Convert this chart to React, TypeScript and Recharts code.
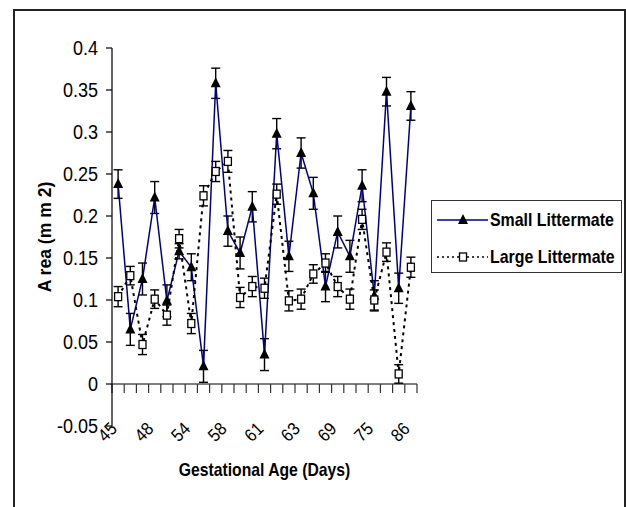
import React from "react";
import { LineChart, Line, XAxis, YAxis, ErrorBar, ReferenceLine, Legend, Label } from "recharts";

// ── data ──────────────────────────────────────────────────────────────────────

const ages = [
  "45", "46", "47", "48", "50", "52", "54", "55", "57", "58", "59", "60", "61",
  "62", "62", "63", "65", "67", "69", "71", "73", "75", "79", "83", "86",
];

const smallArea = [
  0.238, 0.065, 0.125, 0.222, 0.099, 0.158, 0.139, 0.021, 0.358, 0.182, 0.156, 0.211, 0.035,
  0.298, 0.152, 0.275, 0.227, 0.116, 0.181, 0.152, 0.236, 0.105, 0.348, 0.114, 0.331,
];
const smallErr = [
  0.017, 0.019, 0.019, 0.019, 0.019, 0.009, 0.016, 0.019, 0.018, 0.018, 0.019, 0.018, 0.019,
  0.018, 0.018, 0.018, 0.019, 0.018, 0.019, 0.019, 0.019, 0.018, 0.017, 0.018, 0.017,
];

const largeArea = [
  0.104, 0.129, 0.047, 0.101, 0.082, 0.173, 0.072, 0.224, 0.253, 0.265, 0.103, 0.116, 0.114,
  0.226, 0.099, 0.101, 0.131, 0.144, 0.116, 0.101, 0.196, 0.1, 0.157, 0.012, 0.139,
];
const largeErr = [
  0.012, 0.011, 0.012, 0.011, 0.012, 0.011, 0.012, 0.012, 0.012, 0.013, 0.012, 0.012, 0.012,
  0.012, 0.012, 0.012, 0.011, 0.011, 0.012, 0.012, 0.012, 0.012, 0.011, 0.011, 0.012,
];

const yTicks = [-0.05, 0, 0.05, 0.1, 0.15, 0.2, 0.25, 0.3, 0.35, 0.4];

// every category sits in the middle of its slot; only every third one is labelled
const rows = ages.map((age, i) => ({
  pos: i + 0.5,
  age,
  small: smallArea[i],
  smallErr: smallErr[i],
  large: largeArea[i],
  largeErr: largeErr[i],
}));
const labelTicks = rows.filter((_, i) => i % 3 === 0).map((r) => r.pos);

// ── styling ───────────────────────────────────────────────────────────────────

const FONT = "'Liberation Sans', Arial, sans-serif";
const NAVY = "#000080";

const Triangle = ({ cx, cy }: { cx: number; cy: number }) => (
  <path d={`M${cx},${cy - 6}L${cx + 5},${cy + 4}L${cx - 5},${cy + 4}Z`} fill="#000" />
);
const Square = ({ cx, cy }: { cx: number; cy: number }) => (
  <rect x={cx - 3.5} y={cy - 4} width={7} height={8} fill="#fff" stroke="#000" strokeWidth={1.3} />
);

const smallDot = (p: any) => <Triangle key={`s${p.index}`} cx={p.cx} cy={p.cy} />;
const largeDot = (p: any) => <Square key={`l${p.index}`} cx={p.cx} cy={p.cy} />;

function YTick({ x, y, payload }: any) {
  return (
    <text
      transform={`translate(${x},${y}) scale(0.88,1)`}
      textAnchor="end"
      dy="0.36em"
      fontSize={20.5}
      fontFamily={FONT}
      fill="#000"
    >
      {payload.value}
    </text>
  );
}

function XTick({ x, y, payload }: any) {
  return (
    <text
      transform={`translate(${x},${y + 4}) rotate(-45) scale(0.9,1)`}
      textAnchor="end"
      fontSize={18}
      fontFamily={FONT}
      fill="#000"
    >
      {ages[Math.floor(payload.value)]}
    </text>
  );
}

const yTitle = ({ viewBox }: any) => (
  <text
    transform={`translate(${viewBox.x + 51},${viewBox.y + viewBox.height / 2}) rotate(-90) scale(0.95,1)`}
    textAnchor="middle"
    fontSize={18.5}
    fontWeight="bold"
    fontFamily={FONT}
    fill="#000"
  >
    A rea (m m 2)
  </text>
);

const xTitle = ({ viewBox }: any) => (
  <text
    transform={`translate(${viewBox.x + viewBox.width / 2},${viewBox.y + 50}) scale(0.85,1)`}
    textAnchor="middle"
    fontSize={18.5}
    fontWeight="bold"
    fontFamily={FONT}
    fill="#000"
  >
    Gestational Age (Days)
  </text>
);

// x axis drawn at y = 0, with tick marks between the categories
const baseLine = (p: any) => {
  const step = (p.x2 - p.x1) / ages.length;
  return (
    <g>
      <line x1={p.x1} y1={p.y1} x2={p.x2} y2={p.y1} stroke="#000" strokeWidth={1.2} />
      {Array.from({ length: ages.length + 1 }, (_, i) => (
        <line
          key={i}
          x1={p.x1 + i * step}
          x2={p.x1 + i * step}
          y1={p.y1}
          y2={p.y1 + 9}
          stroke="#333"
          strokeWidth={1.2}
        />
      ))}
    </g>
  );
};

const legendOrder = ["small", "large"];

function LegendBox({ payload }: any) {
  const items = [...(payload || [])].sort(
    (a: any, b: any) => legendOrder.indexOf(a.dataKey) - legendOrder.indexOf(b.dataKey)
  );
  return (
    <div
      style={{
        width: 191,
        height: 73,
        boxSizing: "border-box",
        border: "1px solid #333",
        background: "#fff",
        position: "relative",
        fontFamily: FONT,
        fontWeight: "bold",
        fontSize: 18.5,
        color: "#000",
      }}
    >
      {items.map((entry: any, i: number) => {
        const top = i === 0 ? 19 : 56;
        const dashed = entry.dataKey === "large";
        return (
          <div key={entry.value} style={{ position: "absolute", left: 0, top: top - 12, height: 24, width: 191 }}>
            <svg width={56} height={24} style={{ position: "absolute", left: 4, top: 0 }}>
              <line
                x1={1}
                x2={52}
                y1={12}
                y2={12}
                stroke={dashed ? "#000" : NAVY}
                strokeWidth={1.5}
                strokeDasharray={dashed ? "2 3" : undefined}
              />
              {dashed ? <Square cx={27} cy={12} /> : <Triangle cx={27} cy={12} />}
            </svg>
            <span
              style={{
                position: "absolute",
                left: 58,
                top: 0,
                lineHeight: "24px",
                whiteSpace: "nowrap",
                transform: "scaleX(0.86)",
                transformOrigin: "left center",
              }}
            >
              {entry.value}
            </span>
          </div>
        );
      })}
    </div>
  );
}

export default function App() {
  return (
    <div style={{ position: "fixed", left: 0, top: 0, width: 626, height: 507, overflow: "hidden", background: "#fff" }}>
      <div
        style={{
          position: "absolute",
          left: 13,
          top: 9,
          width: 613,
          height: 540,
          boxSizing: "border-box",
          border: "2px solid #222",
        }}
      />
      <div style={{ position: "absolute", left: 0, top: 0 }}>
        <LineChart width={626} height={507} data={rows} margin={{ top: 48, right: 209, bottom: 0, left: 0 }}>
          <XAxis
            dataKey="pos"
            type="number"
            domain={[0, ages.length]}
            ticks={labelTicks}
            interval={0}
            axisLine={false}
            tickLine={false}
            tickSize={0}
            tickMargin={0}
            height={81}
            tick={<XTick />}
            label={<Label content={xTitle} />}
          />
          <YAxis
            type="number"
            domain={[-0.05, 0.4]}
            ticks={yTicks}
            interval={0}
            width={112}
            axisLine={{ stroke: "#000", strokeWidth: 1.2 }}
            tickLine={{ stroke: "#000", strokeWidth: 1.2 }}
            tickSize={6}
            tickMargin={8}
            tick={<YTick />}
            label={<Label content={yTitle} />}
          />
          <ReferenceLine y={0} shape={baseLine} />
          <Legend
            layout="vertical"
            align="center"
            verticalAlign="middle"
            wrapperStyle={{ left: 431, top: 200 }}
            content={<LegendBox />}
          />
          <Line
            dataKey="small"
            name="Small Littermate"
            stroke={NAVY}
            strokeWidth={1.5}
            dot={smallDot}
            activeDot={false}
            isAnimationActive={false}
          >
            <ErrorBar dataKey="smallErr" direction="y" width={4.5} stroke="#000" strokeWidth={1.4} />
          </Line>
          <Line
            dataKey="large"
            name="Large Littermate"
            stroke="#000"
            strokeWidth={2}
            strokeDasharray="3 4"
            dot={largeDot}
            activeDot={false}
            isAnimationActive={false}
          >
            <ErrorBar dataKey="largeErr" direction="y" width={4.5} stroke="#000" strokeWidth={1.4} />
          </Line>
        </LineChart>
      </div>
    </div>
  );
}
